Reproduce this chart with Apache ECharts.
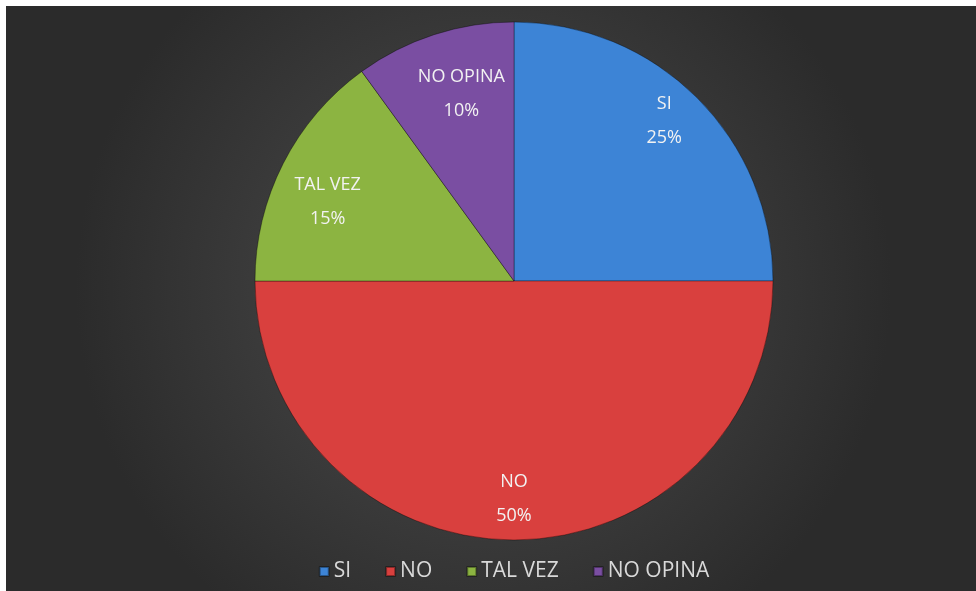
<!DOCTYPE html>
<html>
<head>
<meta charset="utf-8">
<script src="https://cdn.jsdelivr.net/npm/echarts@6/dist/echarts.min.js"></script>
<style>
  html, body { margin: 0; padding: 0; background: #2b2b2b; overflow: hidden; width: 100%; height: 100%; }
  #chart { position: absolute; left: 6px; top: 6px; width: 1016px; height: 600px; }
  .borde { position: absolute; background: #ffffff; z-index: 2; }
</style>
</head>
<body>
<div id="chart"></div>
<div class="borde" style="left:0;top:0;width:100%;height:6px"></div>
<div class="borde" style="left:0;top:0;width:6px;height:100%"></div>
<script>
// datos de la encuesta
var categorias = ['SI', 'NO', 'TAL VEZ', 'NO OPINA'];
var porcentajes = [25, 50, 15, 10];
var colores = ['#3d84d6', '#d9403e', '#8cb441', '#7a4ea2'];
// pequeño ajuste de posición de cada etiqueta (como en el original)
var desplazamientos = [[0, -10], [0, 5], [3, 17], [13, 15]];

var chart = echarts.init(document.getElementById('chart'));

var datos = categorias.map(function (c, i) {
  return { name: c, value: porcentajes[i], itemStyle: { color: colores[i] } };
});

chart.setOption({
  backgroundColor: {
    type: 'radial', x: 0.47, y: 0.47, r: 0.68,
    colorStops: [
      { offset: 0, color: '#4e4e4e' },
      { offset: 1, color: '#2b2b2b' }
    ]
  },
  legend: {
    top: 550,
    left: 'center',
    icon: 'rect',
    itemWidth: 9,
    itemHeight: 9,
    itemGap: 34,
    data: categorias,
    textStyle: { color: '#d9d9d9', fontSize: 21, fontFamily: 'Open Sans' }
  },
  series: [
    {
      name: 'encuesta',
      type: 'pie',
      center: [508, 275],
      radius: [0, 259],
      startAngle: 90,
      clockwise: true,
      label: { show: false },
      labelLine: { show: false },
      itemStyle: { borderColor: 'rgba(0,0,0,0.35)', borderWidth: 1 },
      emphasis: { scale: false },
      data: datos
    },
    {
      // serie transparente solo para colocar las etiquetas cerca del borde
      name: 'etiquetas',
      type: 'pie',
      center: [508, 275],
      radius: [160, 259],
      startAngle: 90,
      clockwise: true,
      silent: true,
      itemStyle: { color: 'rgba(0,0,0,0)' },
      label: {
        show: true,
        position: 'inside',
        formatter: '{b}\n{c}%',
        color: '#f2f2f2',
        fontSize: 18,
        lineHeight: 34,
        fontFamily: 'Open Sans'
      },
      labelLine: { show: false },
      data: categorias.map(function (c, i) {
        return { name: c, value: porcentajes[i], label: { offset: desplazamientos[i] } };
      })
    }
  ]
});
</script>
</body>
</html>
